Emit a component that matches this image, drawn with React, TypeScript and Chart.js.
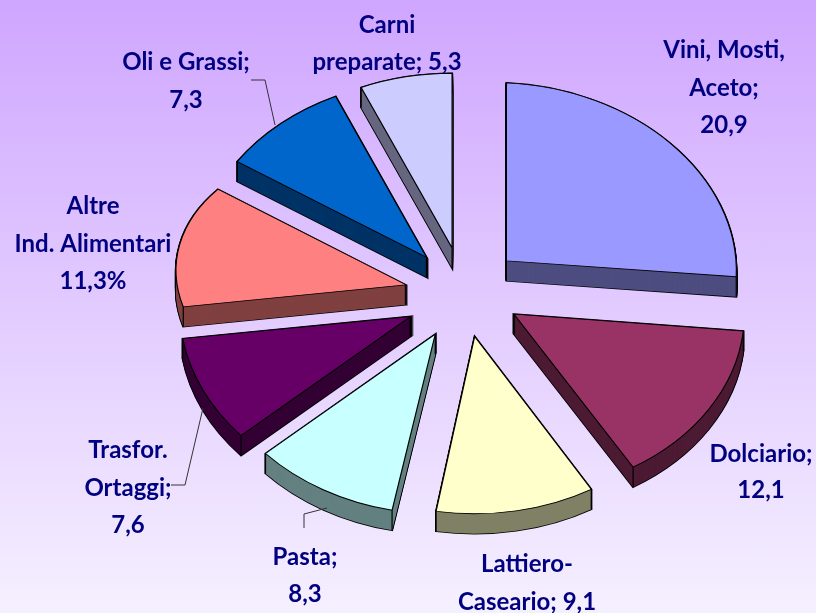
import React, { useEffect, useRef } from "react";
import { Chart, registerables } from "chart.js";

Chart.register(...registerables);

const categories = ["Vini, Mosti, Aceto", "Dolciario", "Lattiero-Caseario", "Pasta", "Trasfor. Ortaggi", "Altre Ind. Alimentari", "Oli e Grassi", "Carni preparate"];
const values = [20.9, 12.1, 9.1, 8.3, 7.6, 11.3, 7.3, 5.3];
const faceColors = ["#9999ff", "#993366", "#ffffcc", "#c8ffff", "#660066", "#ff8080", "#0066cc", "#ccccff"];
const sideColors = ["#4d4d80", "#4d1a33", "#808066", "#648080", "#330033", "#804040", "#003366", "#666680"];
const labelLines = [
  ["Vini, Mosti,", "Aceto;", "20,9"],
  ["Dolciario;", "12,1"],
  ["Lattiero-", "Caseario; 9,1"],
  ["Pasta;", "8,3"],
  ["Trasfor.", "Ortaggi;", "7,6"],
  ["Altre", "Ind. Alimentari", "11,3%"],
  ["Oli e Grassi;", "7,3"],
  ["Carni", "preparate; 5,3"],
];
const labelAnchors = [[724, 58, 37.5], [761, 462, 36], [527, 572, 38], [305, 565, 37], [128, 458, 37.5], [93, 214, 37.5], [186, 70, 38], [387, 33, 37]];
const leaders = [
  [[251, 80], [265, 80], [275, 125]],
  [[171, 485], [185, 485], [203, 408]],
  [[304, 528], [304, 514], [327, 508]],
];

// Perspective of each exploded wedge, approximated by a per-slice affine projection.
const sliceTilt = [0.774, 0.778, 0.769, 0.777, 0.792, 0.63, 0.774, 0.76];
const sliceShearY = [0.044, 0.048, 0.06, 0.095, 0.113, 0.07, -0.028, 0];
const sliceShearX = [0, -0.067, -0.08, -0.1, -0.1, -0.01, 0, 0];
const OFFSET_TILT = 0.77;
const EXPLODE = 59;
const DEPTH = 20;

const pie3d = {
  id: "pie3d",
  beforeDatasetDraw(chart: any) {
    const ctx = chart.ctx;
    const arcs = chart.getDatasetMeta(0).data;
    arcs.forEach((arc: any, i: number) => {
      const mid = (arc.startAngle + arc.endAngle) / 2;
      const k = sliceTilt[i];
      const s = sliceShearY[i];
      const t = sliceShearX[i];
      const ox = Math.cos(mid) * EXPLODE;
      const oy = Math.sin(mid) * EXPLODE;
      const tx = arc.x + ox + t * oy;
      const ty = arc.y + OFFSET_TILT * oy;
      const place = (dy: number) => {
        ctx.translate(tx, ty + dy);
        ctx.transform(1, s, t, k, 0, 0);
        ctx.translate(-arc.x, -arc.y);
      };
      const wedge = () => {
        ctx.beginPath();
        ctx.moveTo(arc.x, arc.y);
        ctx.arc(arc.x, arc.y, arc.outerRadius, arc.startAngle, arc.endAngle);
        ctx.closePath();
      };
      for (let dy = DEPTH; dy >= 0; dy--) {
        ctx.save();
        place(dy);
        wedge();
        ctx.strokeStyle = "#000";
        ctx.lineWidth = 2;
        ctx.stroke();
        ctx.restore();
      }
      for (let dy = DEPTH; dy >= 0; dy--) {
        ctx.save();
        place(dy);
        wedge();
        ctx.fillStyle = sideColors[i];
        ctx.fill();
        ctx.restore();
      }
      const corners = [
        [0, 0],
        [Math.cos(arc.startAngle) * arc.outerRadius, Math.sin(arc.startAngle) * arc.outerRadius],
        [Math.cos(arc.endAngle) * arc.outerRadius, Math.sin(arc.endAngle) * arc.outerRadius],
      ];
      ctx.strokeStyle = "#000";
      ctx.lineWidth = 1.2;
      corners.forEach(([cx, cy]) => {
        const px = tx + cx + t * cy;
        const py = ty + s * cx + k * cy;
        ctx.beginPath();
        ctx.moveTo(px, py);
        ctx.lineTo(px, py + DEPTH);
        ctx.stroke();
      });
      ctx.save();
      place(0);
      arc.draw(ctx);
      ctx.restore();
    });
    return false;
  },
  afterDraw(chart: any) {
    const ctx = chart.ctx;
    ctx.save();
    ctx.strokeStyle = "#333";
    ctx.lineWidth = 1;
    leaders.forEach((pts) => {
      ctx.beginPath();
      pts.forEach(([x, y], i) => (i ? ctx.lineTo(x, y) : ctx.moveTo(x, y)));
      ctx.stroke();
    });
    ctx.fillStyle = "#000080";
    ctx.font = "bold 24px Lato";
    ctx.textAlign = "center";
    ctx.textBaseline = "alphabetic";
    labelLines.forEach((lines, i) => {
      const [x, y, lh] = labelAnchors[i];
      lines.forEach((line, j) => ctx.fillText(line, x, y + j * lh));
    });
    ctx.restore();
  },
};

export default function App() {
  const ref = useRef<HTMLCanvasElement | null>(null);
  useEffect(() => {
    if (!ref.current) return;
    const chart = new Chart(ref.current, {
      type: "pie",
      data: {
        labels: categories,
        datasets: [{
          data: values,
          backgroundColor: faceColors,
          borderColor: "#000000",
          borderWidth: 1.2,
          radius: 230,
        }],
      },
      options: {
        responsive: false,
        animation: false,
        events: [],
        layout: { padding: { left: 112, bottom: 28 } },
        plugins: { legend: { display: false }, tooltip: { enabled: false } },
      },
      plugins: [pie3d],
    } as any);
    return () => chart.destroy();
  }, []);
  return (
    <div style={{ position: "fixed", left: 0, top: 0, width: 816, height: 613, background: "linear-gradient(180deg, #cfa6ff 0%, #f5f0ff 100%)" }}>
      <canvas ref={ref} width={816} height={613} style={{ display: "block" }} />
    </div>
  );
}
